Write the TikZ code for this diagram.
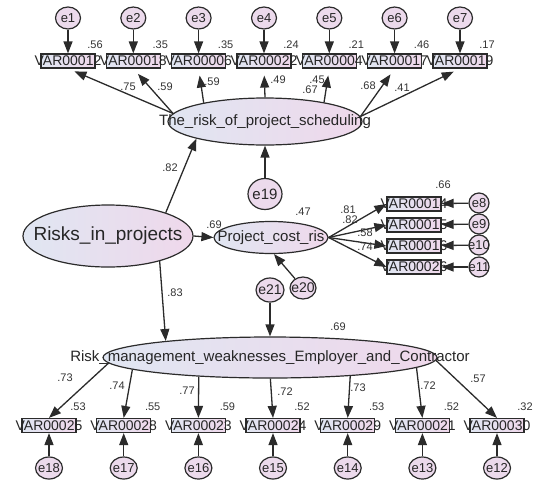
\documentclass[tikz,border=0pt]{standalone}
\usepackage{fontspec}
\setmainfont{Liberation Sans}
\usetikzlibrary{arrows.meta,shapes.geometric}
\definecolor{lineC}{HTML}{2B2B2B}
\definecolor{leftC}{HTML}{E0E6F2}
\definecolor{rightC}{HTML}{EFD8EB}
\definecolor{errC}{HTML}{ECDAEC}
\tikzset{
  lat/.style={ellipse, draw=lineC, line width=1.2pt, left color=leftC, right color=rightC, inner sep=0pt},
  obs/.style={rectangle, draw=lineC, line width=1.2pt, left color=leftC, right color=rightC, inner sep=0pt, minimum width=54pt, minimum height=14pt, label={[boxlab]center:#1}},
  boxlab/.style={inner sep=0pt, font=\fontsize{14}{14}\selectfont, text=black!85},
  latlab/.style={inner sep=0pt, font=\fontsize{15}{15}\selectfont, text=black!85},
  errbase/.style={ellipse, draw=lineC, line width=1.2pt, fill=errC, inner sep=0pt, minimum width=25pt, minimum height=22pt},
  errS/.style={errbase, label={[elab]center:#1}},
  elab/.style={inner sep=0pt, font=\fontsize{13}{13}\selectfont, text=black!85},
  arr/.style={draw=lineC, line width=1.3pt, -{Triangle[length=12pt,width=9pt]}},
  val/.style={inner sep=0pt, font=\fontsize{11}{11}\selectfont, text=black!80}
}
\begin{document}
\begin{tikzpicture}[x=1pt,y=-1pt]
\useasboundingbox (0,0) rectangle (534,482);

% latent variables
\node[lat, minimum width=194pt, minimum height=47pt, label={[latlab]center:The\_risk\_of\_project\_scheduling}] (T) at (265,121.5) {};
\node[lat, minimum width=170pt, minimum height=62pt, label={[latlab,font=\fontsize{19}{19}\selectfont]center:Risks\_in\_projects}] (R) at (108,236) {};
\node[lat, minimum width=114pt, minimum height=32pt, label={[latlab]center:Project\_cost\_ris}] (P) at (271,237.5) {};
\node[lat, minimum width=334pt, minimum height=41pt, label={[latlab]center:Risk\_management\_weaknesses\_Employer\_and\_Contractor}] (B) at (270,357.5) {};

% top observed
\node[obs=VAR00012] (v1) at (68,61) {};
\node[obs=VAR00018] (v2) at (133.3,61) {};
\node[obs=VAR00006] (v3) at (198.6,61) {};
\node[obs=VAR00022] (v4) at (264,61) {};
\node[obs=VAR00004] (v5) at (329.3,61) {};
\node[obs=VAR00017] (v6) at (394.6,61) {};
\node[obs=VAR00019] (v7) at (460,61) {};
\node[errS=e1] (e1) at (68,18) {};
\node[errS=e2] (e2) at (133.3,18) {};
\node[errS=e3] (e3) at (198.6,18) {};
\node[errS=e4] (e4) at (264,18) {};
\node[errS=e5] (e5) at (329.3,18) {};
\node[errS=e6] (e6) at (394.6,18) {};
\node[errS=e7] (e7) at (460,18) {};

% right observed
\node[obs=VAR00014] (r1) at (414,204) {};
\node[obs=VAR00015] (r2) at (414,225) {};
\node[obs=VAR00016] (r3) at (414,246) {};
\node[obs=VAR00026] (r4) at (414,267) {};
\node[errS=e8, minimum width=20pt, minimum height=20pt] (e8) at (479,203) {};
\node[errS=e9, minimum width=20pt, minimum height=20pt] (e9) at (479,224) {};
\node[errS=e10, minimum width=20pt, minimum height=20pt] (e10) at (479,245) {};
\node[errS=e11, minimum width=20pt, minimum height=20pt] (e11) at (479,267) {};

% bottom observed
\node[obs=VAR00025] (b1) at (49,425.5) {};
\node[obs=VAR00028] (b2) at (123.7,425.5) {};
\node[obs=VAR00023] (b3) at (198.4,425.5) {};
\node[obs=VAR00024] (b4) at (273,425.5) {};
\node[obs=VAR00029] (b5) at (347.7,425.5) {};
\node[obs=VAR00021] (b6) at (422.4,425.5) {};
\node[obs=VAR00030] (b7) at (497,425.5) {};
\node[errS=e18, minimum width=27pt, minimum height=22pt] (e18) at (49,468) {};
\node[errS=e17, minimum width=27pt, minimum height=22pt] (e17) at (123.7,468) {};
\node[errS=e16, minimum width=27pt, minimum height=22pt] (e16) at (198.4,468) {};
\node[errS=e15, minimum width=27pt, minimum height=22pt] (e15) at (273,468) {};
\node[errS=e14, minimum width=27pt, minimum height=22pt] (e14) at (347.7,468) {};
\node[errS=e13, minimum width=27pt, minimum height=22pt] (e13) at (422.4,468) {};
\node[errS=e12, minimum width=27pt, minimum height=22pt] (e12) at (497,468) {};

% structural disturbances
\node[errbase, minimum width=34pt, minimum height=31pt, label={[elab,font=\fontsize{15}{15}\selectfont]center:e19}] (e19) at (265,194) {};
\node[errbase, minimum width=28pt, minimum height=24pt, label={[elab,font=\fontsize{14}{14}\selectfont]center:e21}] (e21) at (270,290) {};
\node[errbase, minimum width=26pt, minimum height=22pt, label={[elab,font=\fontsize{14}{14}\selectfont]center:e20}] (e20) at (303,288) {};

% arrows: errors to indicators
\foreach \i in {1,...,7} {\draw[arr] (e\i) -- (v\i);}
\draw[arr] (e8) -- (r1);
\draw[arr] (e9) -- (r2);
\draw[arr] (e10) -- (r3);
\draw[arr] (e11) -- (r4);
\draw[arr] (e18) -- (b1);
\draw[arr] (e17) -- (b2);
\draw[arr] (e16) -- (b3);
\draw[arr] (e15) -- (b4);
\draw[arr] (e14) -- (b5);
\draw[arr] (e13) -- (b6);
\draw[arr] (e12) -- (b7);

% loadings top
\draw[arr, shorten >=7pt] (T.175) -- (v1.south);
\draw[arr, shorten >=7pt] (T.175) -- (v2.south);
\draw[arr, shorten >=7pt] (T.163) -- (v3.south);
\draw[arr, shorten >=7pt] (T.90) -- (v4.south);
\draw[arr, shorten >=7pt] (T.18) -- (v5.south);
\draw[arr, shorten >=7pt] (T.3) -- (v6.south);
\draw[arr, shorten >=7pt] (T.3) -- (v7.south);

% loadings right
\draw[arr] (P.east) -- (r1.west);
\draw[arr] (P.east) -- (r2.west);
\draw[arr] (P.east) -- (r3.west);
\draw[arr] (P.east) -- (r4.west);

% loadings bottom
\draw[arr] (B.182) -- (b1.north);
\draw[arr] (B.185) -- (b2.north);
\draw[arr] (B.195) -- (b3.north);
\draw[arr] (B.-89) -- (b4.north);
\draw[arr] (B.-13.5) -- (b5.north);
\draw[arr] (B.-4) -- (b6.north);
\draw[arr] (B.-1) -- (b7.north);

% structural
\draw[arr] (R.22) -- (T.194);
\draw[arr] (R.east) -- (P.west);
\draw[arr] (R.-26) -- (B.171);
\draw[arr] (e19) -- (T);
\draw[arr] (e20) -- (P.-80);
\draw[arr] (e21) -- (B);

% values: top
\node[val] (s1) at (95,45) {.56};
\node[val] (s2) at (160.3,45) {.35};
\node[val] (s3) at (225.6,45) {.35};
\node[val] (s4) at (291,45) {.24};
\node[val] (s5) at (356.3,45) {.21};
\node[val] (s6) at (421.6,45) {.46};
\node[val] (s7) at (487,45) {.17};
\node[val] (f1) at (128,87) {.75};
\node[val] (f2) at (165,87) {.59};
\node[val] (f3) at (212,82) {.59};
\node[val] (f4) at (278,80) {.49};
\node[val] (f5) at (317,80) {.45};
\node[val] (f6) at (310,90) {.67};
\node[val] (f7) at (368,86) {.68};
\node[val] (f8) at (402,88) {.41};

% values: middle
\node[val] (g1) at (170,168) {.82};
\node[val] (g2) at (214,225) {.69};
\node[val] (g3) at (303,212) {.47};
\node[val] (g4) at (175,293) {.83};
\node[val] (g5) at (338,327) {.69};
\node[val] (h1) at (443,185) {.66};
\node[val] (h2) at (348,210) {.81};
\node[val] (h3) at (350,220) {.82};
\node[val] (h4) at (365,233) {.58};
\node[val] (h5) at (365,247) {.74};

% values: bottom
\node[val] (k1) at (65,378) {.73};
\node[val] (k2) at (117,386) {.74};
\node[val] (k3) at (187,391) {.77};
\node[val] (k4) at (285,392) {.72};
\node[val] (k5) at (358,388) {.73};
\node[val] (k6) at (428,386) {.72};
\node[val] (k7) at (478,379) {.57};
\node[val] (m1) at (78,407) {.53};
\node[val] (m2) at (152.7,407) {.55};
\node[val] (m3) at (227.4,407) {.59};
\node[val] (m4) at (302,407) {.52};
\node[val] (m5) at (376.7,407) {.53};
\node[val] (m6) at (451.4,407) {.52};
\node[val] (m7) at (525,407) {.32};
\end{tikzpicture}
\end{document}
